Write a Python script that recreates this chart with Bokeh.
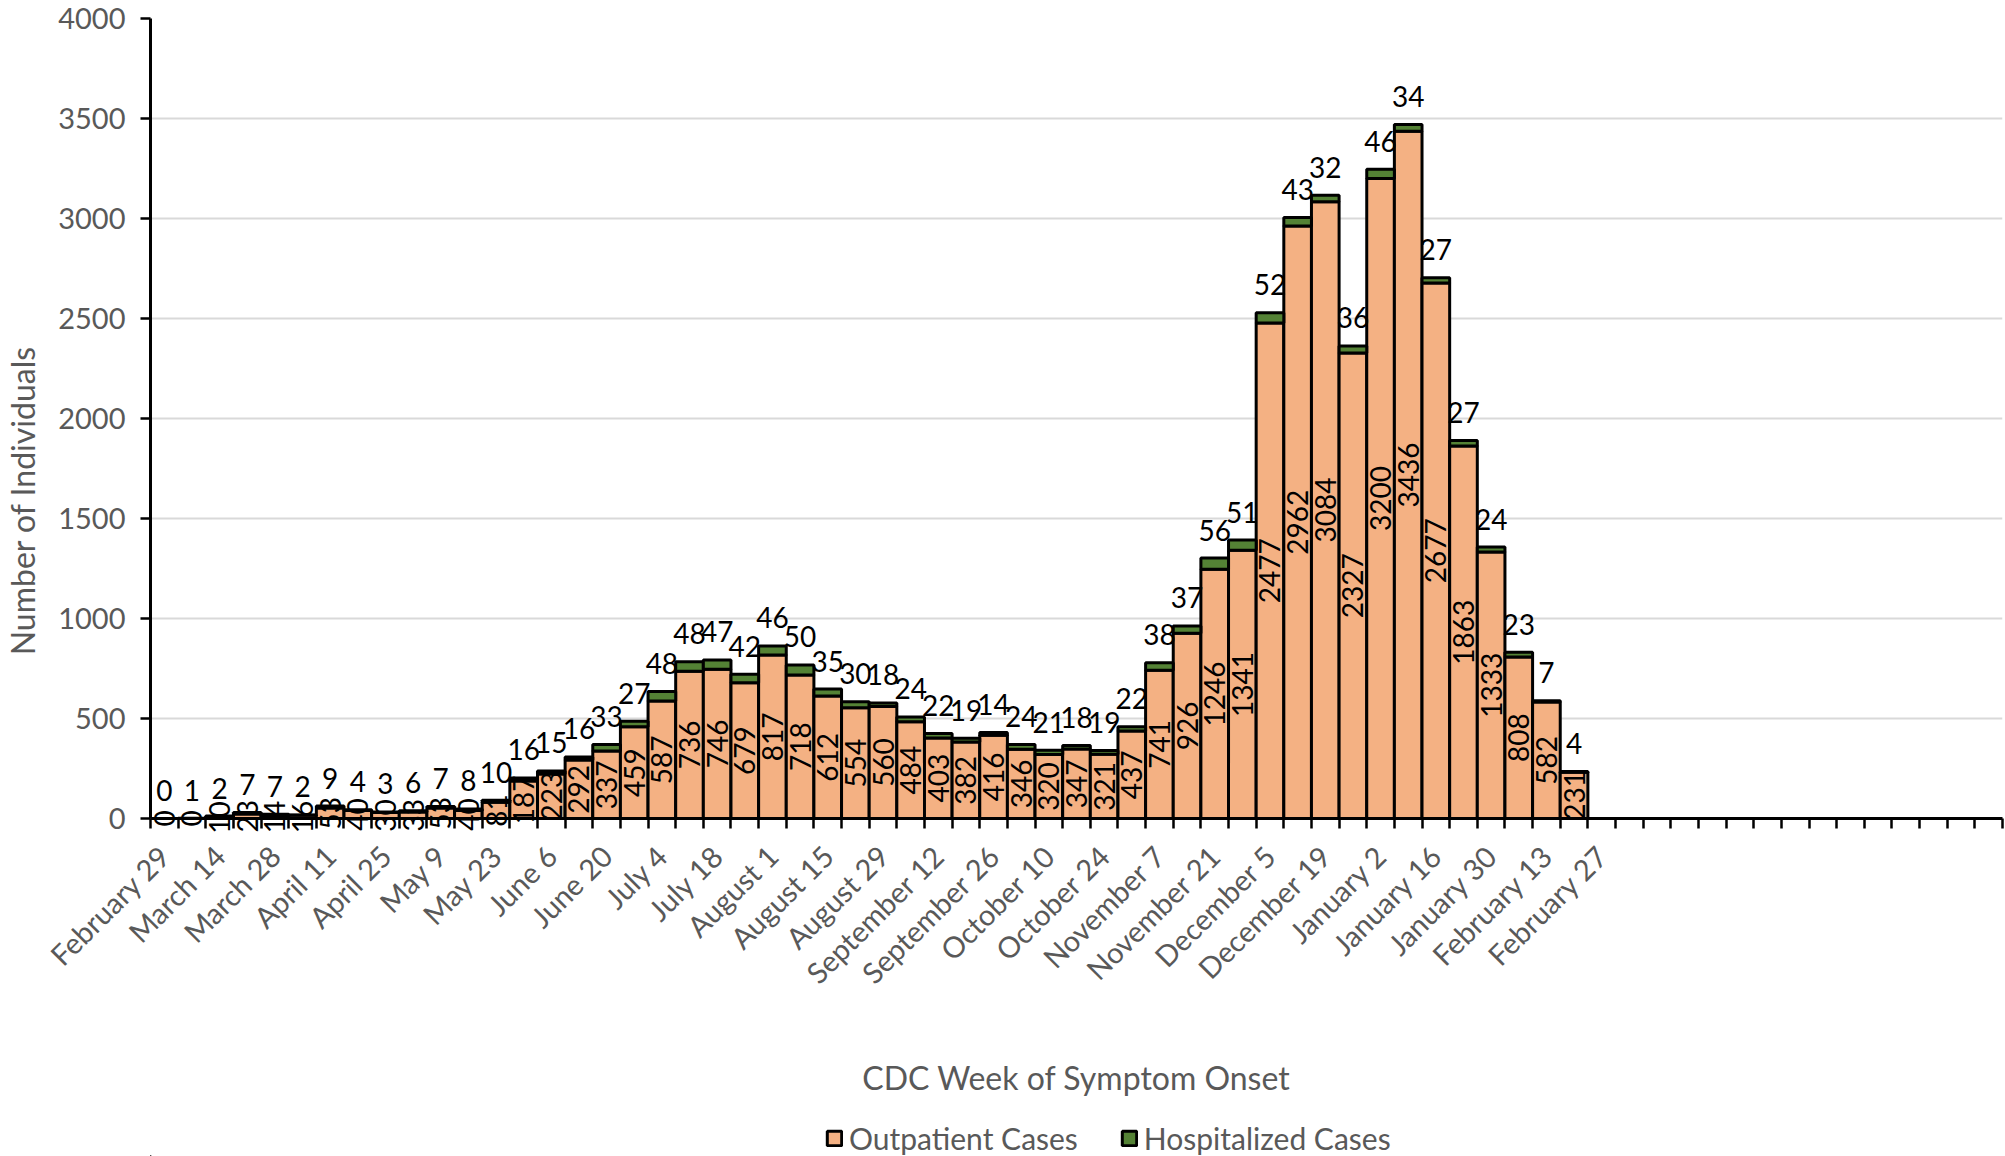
import math
from bokeh.plotting import figure
from bokeh.layouts import column
from bokeh.models import (Range1d, FixedTicker, Legend, LegendItem,
                          ColumnDataSource, AllLabels)
from bokeh.embed import file_html
from bokeh.resources import INLINE
from bokeh.core.properties import value

# ---------------- data ----------------
tick_labels = ["February 29", "March 14", "March 28", "April 11", "April 25", "May 9",
               "May 23", "June 6", "June 20", "July 4", "July 18", "August 1",
               "August 15", "August 29", "September 12", "September 26", "October 10",
               "October 24", "November 7", "November 21", "December 5", "December 19",
               "January 2", "January 16", "January 30", "February 13", "February 27"]
n_weeks = 67

outpatient = [0, 0, 10, 23, 14, 16, 53, 40, 30, 33, 53, 40,
              81, 187, 223, 292, 337, 459, 587, 736, 746, 679, 817, 718,
              612, 554, 560, 484, 403, 382, 416, 346, 320, 347, 321, 437,
              741, 926, 1246, 1341, 2477, 2962, 3084, 2327, 3200, 3436, 2677, 1863,
              1333, 808, 582, 231]
hospitalized = [0, 1, 2, 7, 7, 2, 9, 4, 3, 6, 7, 8,
                10, 16, 15, 16, 33, 27, 48, 48, 47, 42, 46, 50,
                35, 30, 18, 24, 22, 19, 14, 24, 21, 18, 19, 22,
                38, 37, 56, 51, 52, 43, 32, 36, 46, 34, 27, 27,
                24, 23, 7, 4]

series_names = ["Outpatient Cases", "Hospitalized Cases"]
y_title = "Number of Individuals"
x_title = "CDC Week of Symptom Onset"

ORANGE = "#F4B183"
GREEN = "#548235"
GRAY_TXT = "#595959"
FONT = "Lato"

xs = [i + 0.5 for i in range(len(outpatient))]
total = [o + h for o, h in zip(outpatient, hospitalized)]
src = ColumnDataSource(dict(
    x=xs, outp=outpatient, hosp=hospitalized, total=total,
    mid=[o / 2 for o in outpatient],
    outp_txt=[str(v) for v in outpatient],
    hosp_txt=[str(v) for v in hospitalized],
))

W, H_MAIN, H_LEG = 2005, 1106, 50
LEFT = 150

p = figure(width=W, height=H_MAIN,
           x_range=Range1d(0, n_weeks), y_range=Range1d(0, 4000),
           output_backend="svg", toolbar_location=None,
           min_border_left=LEFT, min_border_right=3,
           min_border_top=18, min_border_bottom=H_MAIN - 818)
p.outline_line_color = None
p.background_fill_color = "white"
p.xgrid.visible = False
p.ygrid.grid_line_color = "#D9D9D9"
p.ygrid.grid_line_width = 2

bar_style = dict(line_color="black", line_width=3)
p.vbar(x="x", width=1, bottom=0, top="outp", source=src,
       fill_color=ORANGE, **bar_style)
p.vbar(x="x", width=1, bottom="outp", top="total", source=src,
       fill_color=GREEN, **bar_style)

# data labels
p.text(x="x", y="mid", text="outp_txt", source=src, angle=math.pi / 2,
       text_align="center", text_baseline="middle",
       text_font=value(FONT), text_font_size="28px", text_color="black",
       level="overlay")
p.text(x="x", y="total", text="hosp_txt", source=src, y_offset=-28,
       text_align="center", text_baseline="middle",
       text_font=value(FONT), text_font_size="28px", text_color="black",
       level="overlay")

# axis titles (unclipped overlay text, offset in pixels from the axis origin)
p.text(x=[0], y=[0], text=[y_title], x_offset=-128, y_offset=-318,
       angle=math.pi / 2, text_align="center", text_baseline="middle",
       text_font=value(FONT), text_font_size="32px", text_color=GRAY_TXT,
       level="overlay")
p.text(x=[n_weeks / 2], y=[0], text=[x_title], y_offset=259,
       text_align="center", text_baseline="middle",
       text_font=value(FONT), text_font_size="32px", text_color=GRAY_TXT,
       level="overlay")

# x axis
xa = p.xaxis[0]
xa.ticker = FixedTicker(ticks=[2 * i + 0.5 for i in range(len(tick_labels))],
                        minor_ticks=list(range(n_weeks + 1)))
xa.major_label_overrides = {2 * i + 0.5: lab for i, lab in enumerate(tick_labels)}
xa.major_label_policy = AllLabels()
xa.major_label_orientation = math.pi / 4
xa.major_tick_out = 0
xa.major_tick_in = 0
xa.minor_tick_out = 10
xa.minor_tick_in = 0
xa.minor_tick_line_color = "black"
xa.minor_tick_line_width = 2.5
xa.axis_line_color = "black"
xa.axis_line_width = 3
xa.major_label_text_font = FONT
xa.major_label_text_font_size = "29px"
xa.major_label_text_color = GRAY_TXT
xa.major_label_standoff = 22

# y axis
ya = p.yaxis[0]
ya.ticker = FixedTicker(ticks=list(range(0, 4001, 500)))
ya.major_tick_out = 10
ya.major_tick_in = 0
ya.major_tick_line_color = "black"
ya.major_tick_line_width = 2.5
ya.minor_tick_out = 0
ya.minor_tick_in = 0
ya.axis_line_color = "black"
ya.axis_line_width = 3
ya.major_label_standoff = 15
ya.major_label_text_font = FONT
ya.major_label_text_font_size = "29px"
ya.major_label_text_color = GRAY_TXT

# legend strip (separate figure below the chart; its frame aligns with the chart's)
leg = figure(width=W, height=H_LEG, x_range=Range1d(0, 1), y_range=Range1d(0, 1),
             output_backend="svg", toolbar_location=None,
             x_axis_location=None, y_axis_location=None,
             min_border_left=0, min_border_right=0,
             min_border_top=0, min_border_bottom=0)
leg.outline_line_color = None
leg.grid.visible = False
# off-range swatch renderers, used only to style the legend entries
swatch = ColumnDataSource(dict(x=[-50], bottom=[-50], top=[-49]))
lr1 = leg.vbar(x="x", bottom="bottom", top="top", width=1, source=swatch,
               fill_color=ORANGE, **bar_style)
lr2 = leg.vbar(x="x", bottom="bottom", top="top", width=1, source=swatch,
               fill_color=GREEN, **bar_style)
legend = Legend(items=[LegendItem(label=series_names[0], renderers=[lr1]),
                       LegendItem(label=series_names[1], renderers=[lr2])],
                location=(825 - LEFT, 0), orientation="horizontal",
                label_text_font=FONT, label_text_font_size="30px",
                label_text_color=GRAY_TXT, glyph_width=18, glyph_height=18,
                label_standoff=6, spacing=42, padding=0, margin=0,
                border_line_color=None, background_fill_alpha=0)
leg.add_layout(legend)

open("out.html", "w").write(file_html(column(p, leg), INLINE))
